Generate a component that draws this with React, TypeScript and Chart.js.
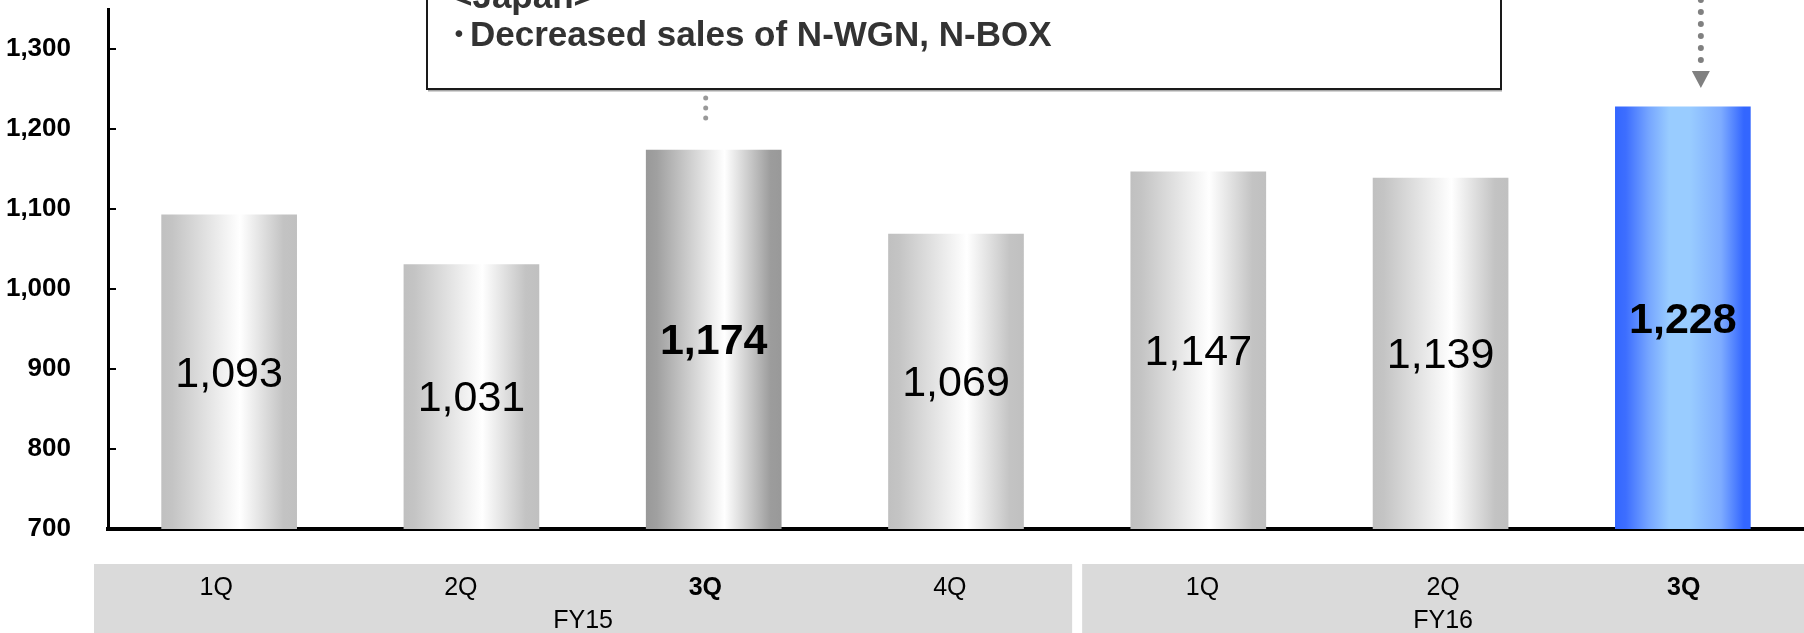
import React, { useEffect, useRef } from 'react';
import { Chart, registerables } from 'chart.js';

Chart.register(...registerables);

// ---- data ----
const quarters = ['1Q', '2Q', '3Q', '4Q', '1Q', '2Q', '3Q'];
const fiscalYears = ['FY15', 'FY15', 'FY15', 'FY15', 'FY16', 'FY16', 'FY16'];
const salesValues = [1093, 1031, 1174, 1069, 1147, 1139, 1228];
const highlighted = [false, false, true, false, false, false, true];
const barStyles = ['light', 'light', 'dark', 'light', 'light', 'light', 'blue'];
const yTickValues = [700, 800, 900, 1000, 1100, 1200, 1300];
const noteHeading = '<Japan>';
const noteBullet = '・';
const noteLine = 'Decreased sales of N-WGN, N-BOX';

const FONT = '"Liberation Sans", Arial, Helvetica, sans-serif';
const BAR_PCT = 0.56;

function barGradient(ctx: CanvasRenderingContext2D, x0: number, x1: number, style: string) {
  const g = ctx.createLinearGradient(x0, 0, x1, 0);
  if (style === 'blue') {
    g.addColorStop(0, '#3366ff');
    g.addColorStop(0.08, '#3d6eff');
    g.addColorStop(0.25, '#76a6ff');
    g.addColorStop(0.4, '#99ccff');
    g.addColorStop(0.55, '#99ccff');
    g.addColorStop(0.78, '#7eacff');
    g.addColorStop(0.95, '#3366ff');
    g.addColorStop(1, '#3366ff');
  } else if (style === 'dark') {
    g.addColorStop(0, '#999999');
    g.addColorStop(0.08, '#a0a0a0');
    g.addColorStop(0.58, '#ffffff');
    g.addColorStop(0.92, '#9c9c9c');
    g.addColorStop(1, '#999999');
  } else {
    g.addColorStop(0, '#c0c0c0');
    g.addColorStop(0.08, '#c4c4c4');
    g.addColorStop(0.58, '#ffffff');
    g.addColorStop(0.9, '#c3c3c3');
    g.addColorStop(1, '#c0c0c0');
  }
  return g;
}

// contiguous runs of the same fiscal year, with their band extents
function groupBands(chart: any) {
  const x = chart.scales.x;
  const n = quarters.length;
  const boundary = (i: number) => (x.getPixelForValue(i) + x.getPixelForValue(i + 1)) / 2;
  const out: { label: string; start: number; end: number; left: number; right: number }[] = [];
  let s = 0;
  for (let i = 1; i <= n; i++) {
    if (i === n || fiscalYears[i] !== fiscalYears[s]) {
      const e = i - 1;
      const left = s === 0 ? x.left - 14 : boundary(s - 1) + 5;
      const right = e === n - 1 ? chart.width : boundary(e) - 5;
      out.push({ label: fiscalYears[s], start: s, end: e, left, right });
      s = i;
    }
  }
  return out;
}

const decorPlugin = {
  id: 'decor',
  beforeDraw(chart: any) {
    const { ctx, chartArea } = chart;
    const bandTop = chartArea.bottom + 35;
    ctx.save();
    ctx.fillStyle = '#dadada';
    groupBands(chart).forEach((b) => {
      ctx.fillRect(b.left, bandTop, b.right - b.left, chart.height - bandTop);
    });
    ctx.restore();
  },
  beforeDatasetsDraw(chart: any) {
    const meta = chart.getDatasetMeta(0);
    meta.data.forEach((el: any, i: number) => {
      const w = el.width;
      if (!isFinite(el.x) || !isFinite(w)) return;
      const g = barGradient(chart.ctx, el.x - w / 2, el.x + w / 2, barStyles[i]);
      el.options = Object.assign({}, el.options, { backgroundColor: g });
    });
  },
  afterDraw(chart: any) {
    const { ctx, chartArea } = chart;
    const y = chart.scales.y;
    const meta = chart.getDatasetMeta(0);
    const basePx = y.getPixelForValue(y.min);
    ctx.save();

    // inner tick marks on y axis
    ctx.strokeStyle = '#000';
    ctx.lineWidth = 2;
    yTickValues.forEach((v) => {
      const py = y.getPixelForValue(v);
      ctx.beginPath();
      ctx.moveTo(chartArea.left, py);
      ctx.lineTo(chartArea.left + 8, py);
      ctx.stroke();
    });

    // value labels in bar centres
    ctx.fillStyle = '#000';
    ctx.textAlign = 'center';
    ctx.textBaseline = 'middle';
    meta.data.forEach((el: any, i: number) => {
      ctx.font = `${highlighted[i] ? 'bold ' : ''}43px ${FONT}`;
      const cy = (el.y + basePx) / 2 + 3;
      ctx.fillText(salesValues[i].toLocaleString('en-US'), el.x, cy);
    });

    // quarter + fiscal-year labels, centred in their band cells
    ctx.textBaseline = 'alphabetic';
    groupBands(chart).forEach((b) => {
      const count = b.end - b.start + 1;
      const cell = (b.right - b.left) / count;
      for (let i = b.start; i <= b.end; i++) {
        ctx.font = `${highlighted[i] ? 'bold ' : ''}25px ${FONT}`;
        ctx.fillText(quarters[i], b.left + cell * (i - b.start + 0.5), chartArea.bottom + 66);
      }
      ctx.font = `25px ${FONT}`;
      ctx.fillText(b.label, (b.left + b.right) / 2, chartArea.bottom + 99);
    });

    // annotation box
    const bx0 = 427, bx1 = 1501, by1 = 89;
    ctx.fillStyle = 'rgba(0,0,0,0.35)';
    ctx.fillRect(bx0 + 1, by1 + 1, bx1 - bx0, 1.5);
    ctx.fillStyle = '#fff';
    ctx.fillRect(bx0, -10, bx1 - bx0, by1 + 10);
    ctx.strokeStyle = '#1a1a1a';
    ctx.lineWidth = 2;
    ctx.strokeRect(bx0, -10, bx1 - bx0, by1 + 10);

    ctx.fillStyle = '#333';
    ctx.textAlign = 'left';
    ctx.font = `bold 35px ${FONT}`;
    ctx.fillText(noteHeading, 452, 8);
    ctx.textAlign = 'center';
    ctx.fillText(noteBullet, 458, 46);
    ctx.textAlign = 'left';
    ctx.fillText(noteLine, 470, 46);

    // dotted connector from box to 3Q FY15 bar
    const b3 = meta.data[2];
    ctx.fillStyle = '#999';
    [98, 108, 118].forEach((py) => {
      ctx.beginPath();
      ctx.arc(b3.x - 8, py, 2.5, 0, Math.PI * 2);
      ctx.fill();
    });

    // dotted arrow to 3Q FY16 bar
    const b7 = meta.data[6];
    const ax = b7.x + 18;
    ctx.fillStyle = '#808080';
    [0, 12, 24, 36, 48, 60].forEach((py) => {
      ctx.beginPath();
      ctx.arc(ax, py, 3, 0, Math.PI * 2);
      ctx.fill();
    });
    ctx.beginPath();
    ctx.moveTo(ax - 9, 71);
    ctx.lineTo(ax + 9, 71);
    ctx.lineTo(ax, 88);
    ctx.closePath();
    ctx.fill();

    ctx.restore();
  },
};

export default function App() {
  const canvasRef = useRef<HTMLCanvasElement | null>(null);

  useEffect(() => {
    const canvas = canvasRef.current;
    if (!canvas) return;
    const chart = new Chart(canvas, {
      type: 'bar',
      data: {
        labels: quarters,
        datasets: [
          {
            data: salesValues,
            borderWidth: 0,
            barPercentage: BAR_PCT,
            categoryPercentage: 1,
            backgroundColor: '#c8c8c8',
          },
        ],
      },
      options: {
        responsive: false,
        animation: false,
        devicePixelRatio: 1,
        layout: { padding: { top: 9, left: 0, right: 0, bottom: 0 } },
        plugins: {
          legend: { display: false },
          tooltip: { enabled: false },
          title: { display: false },
        },
        scales: {
          x: {
            offset: true,
            grid: { display: false, drawTicks: false },
            ticks: { display: false },
            border: { display: true, color: '#000', width: 4 },
            afterFit: (s: any) => {
              s.height = 104;
              s.paddingLeft = 0;
              s.paddingRight = 0;
            },
          },
          y: {
            min: 700,
            max: 1350,
            afterBuildTicks: (s: any) => {
              s.ticks = yTickValues.map((v) => ({ value: v }));
            },
            ticks: {
              color: '#000',
              padding: 37,
              font: { family: FONT, size: 26, weight: 'bold' },
              callback: (v: any) => Number(v).toLocaleString('en-US'),
            },
            grid: { display: false, drawTicks: false },
            border: { display: true, color: '#000', width: 3 },
            afterFit: (s: any) => {
              s.width = 108;
              s.paddingTop = 0;
              s.paddingBottom = 0;
            },
          },
        },
      },
      plugins: [decorPlugin],
    });
    return () => chart.destroy();
  }, []);

  return (
    <div style={{ position: 'fixed', left: 0, top: 0, width: 1804, height: 633, background: '#fff' }}>
      <canvas ref={canvasRef} width={1804} height={633} style={{ display: 'block' }} />
    </div>
  );
}
